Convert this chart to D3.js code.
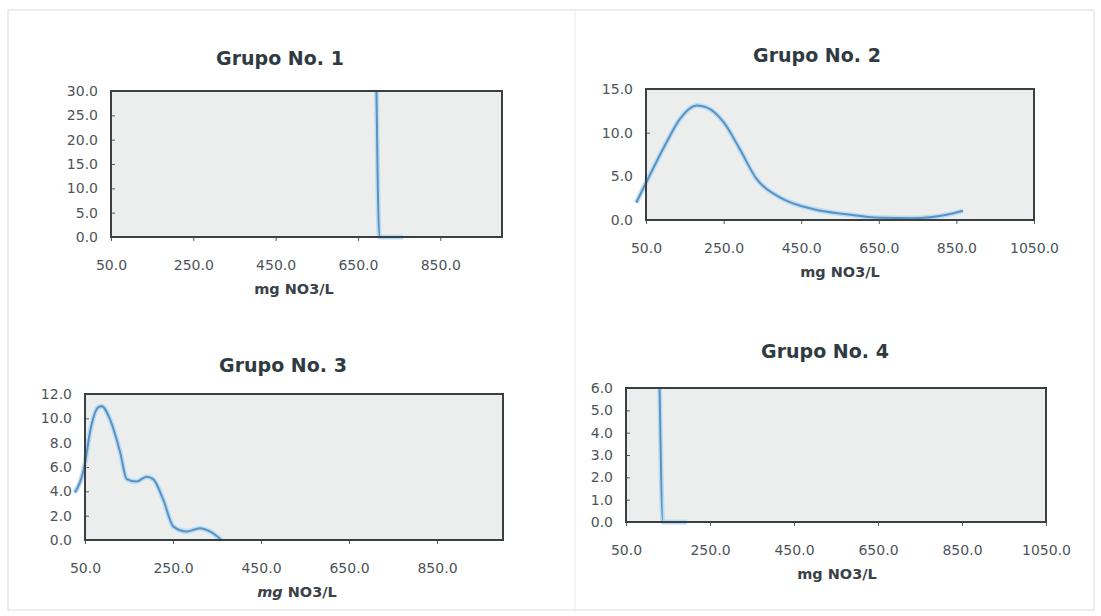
<!DOCTYPE html>
<html>
<head>
<meta charset="utf-8">
<script src="https://cdn.jsdelivr.net/npm/d3@7"></script>
<style>
  html, body { margin: 0; padding: 0; background: #ffffff; }
  svg { display: block; }
</style>
</head>
<body>
<svg id="chart" width="1101" height="616"></svg>
<script>
// ---------- DATA ----------
const titles = ["Grupo No. 1", "Grupo No. 2", "Grupo No. 3", "Grupo No. 4"];
const xAxisTitle = "mg NO3/L";

const g1X = [695, 702, 760];
const g1Y = [30, 0, 0];

const g2X = [25, 55, 103, 138, 181, 206, 250, 292, 335, 395, 480, 567, 653, 738, 825, 867];
const g2Y = [2.0, 4.7, 8.9, 11.6, 13.1, 12.9, 11.2, 8.1, 4.7, 2.6, 1.26, 0.65, 0.25, 0.2, 0.6, 1.05];

const g3X = [27, 50, 61, 80, 88, 107, 130, 145, 167, 190, 205, 228, 251, 281, 311, 334, 360];
const g3Y = [3.9, 6.3, 8.8, 10.9, 11.0, 9.9, 7.2, 5.0, 4.8, 5.2, 5.0, 3.3, 1.1, 0.7, 0.97, 0.7, 0];

const g4X = [130, 138, 195];
const g4Y = [6, 0, 0];

const xTicksA = [50, 250, 450, 650, 850];
const xTicksB = [50, 250, 450, 650, 850, 1050];
const yTicks1 = [0, 5, 10, 15, 20, 25, 30];
const yTicks2 = [0, 5, 10, 15];
const yTicks3 = [0, 2, 4, 6, 8, 10, 12];
const yTicks4 = [0, 1, 2, 3, 4, 5, 6];

// ---------- LAYOUT ----------
const panels = [
  { title: titles[0], xs: g1X, ys: g1Y, xDom: [50, 1000], yDom: [0, 30], xt: xTicksA, yt: yTicks1,
    l: 111, r: 502, t: 91, b: 237, titleX: 280, titleY: 65, labX: 294, italicMg: false },
  { title: titles[1], xs: g2X, ys: g2Y, xDom: [50, 1050], yDom: [0, 15], xt: xTicksB, yt: yTicks2,
    l: 646, r: 1034, t: 89, b: 220, titleX: 817, titleY: 62, labX: 840, italicMg: false },
  { title: titles[2], xs: g3X, ys: g3Y, xDom: [50, 1000], yDom: [0, 12], xt: xTicksA, yt: yTicks3,
    l: 85, r: 503, t: 394, b: 540, titleX: 283, titleY: 372, labX: 297, italicMg: true },
  { title: titles[3], xs: g4X, ys: g4Y, xDom: [50, 1050], yDom: [0, 6], xt: xTicksB, yt: yTicks4,
    l: 626, r: 1046, t: 388, b: 522, titleX: 825, titleY: 358, labX: 837, italicMg: false }
];

const svg = d3.select("#chart");

// faint page frame & divider like the scanned sheet
svg.append("rect").attr("x", 8).attr("y", 10).attr("width", 1086).attr("height", 600)
  .attr("fill", "none").attr("stroke", "#dcdcdc").attr("stroke-width", 1);
svg.append("line").attr("x1", 575).attr("x2", 575).attr("y1", 10).attr("y2", 610)
  .attr("stroke", "#ececec").attr("stroke-width", 1);

const FONT = "'DejaVu Sans', Verdana, sans-serif";

panels.forEach(p => {
  const g = svg.append("g");
  const x = d3.scaleLinear().domain(p.xDom).range([p.l, p.r]);
  const y = d3.scaleLinear().domain(p.yDom).range([p.b, p.t]);

  // plot area
  g.append("rect").attr("x", p.l).attr("y", p.t).attr("width", p.r - p.l).attr("height", p.b - p.t)
    .attr("fill", "#eceeee");

  // title
  g.append("text").attr("x", p.titleX).attr("y", p.titleY).attr("text-anchor", "middle")
    .attr("font-family", FONT).attr("font-weight", "bold").attr("font-size", 19)
    .attr("fill", "#2f3b40").text(p.title);

  // axes
  const xa = g.append("g").attr("transform", `translate(0,${p.b})`)
    .call(d3.axisBottom(x).tickValues(p.xt).tickFormat(d3.format(".1f"))
      .tickSizeInner(4).tickSizeOuter(0).tickPadding(19));
  const ya = g.append("g").attr("transform", `translate(${p.l},0)`)
    .call(d3.axisLeft(y).tickValues(p.yt).tickFormat(d3.format(".1f"))
      .tickSizeInner(-4).tickSizeOuter(0).tickPadding(13));
  [xa, ya].forEach(a => {
    a.select(".domain").remove();
    a.selectAll(".tick line").attr("stroke", "#555a5e").attr("stroke-width", 1);
    a.selectAll(".tick text").attr("font-family", FONT).attr("font-size", 14).attr("fill", "#4d5459");
  });

  // line (halo + core)
  const pts = p.xs.map((v, i) => [v, p.ys[i]]);
  const line = d3.line().x(d => x(d[0])).y(d => y(d[1])).curve(d3.curveMonotoneX);
  g.append("path").datum(pts).attr("d", line).attr("fill", "none")
    .attr("stroke", "#b9def3").attr("stroke-width", 5).attr("stroke-linejoin", "round");
  g.append("path").datum(pts).attr("d", line).attr("fill", "none")
    .attr("stroke", "#5e90c0").attr("stroke-width", 2).attr("stroke-linejoin", "round");

  // frame
  g.append("rect").attr("x", p.l).attr("y", p.t).attr("width", p.r - p.l).attr("height", p.b - p.t)
    .attr("fill", "none").attr("stroke", "#3a3f43").attr("stroke-width", 2);

  // x axis title
  const lab = g.append("text").attr("x", p.labX).attr("y", p.b + 57).attr("text-anchor", "middle")
    .attr("font-family", FONT).attr("font-weight", "bold").attr("font-size", 14.5).attr("fill", "#3a4247");
  lab.append("tspan").attr("font-style", p.italicMg ? "italic" : "normal").text(xAxisTitle.split(" ")[0]);
  lab.append("tspan").text(" " + xAxisTitle.split(" ").slice(1).join(" "));
});
</script>
</body>
</html>
